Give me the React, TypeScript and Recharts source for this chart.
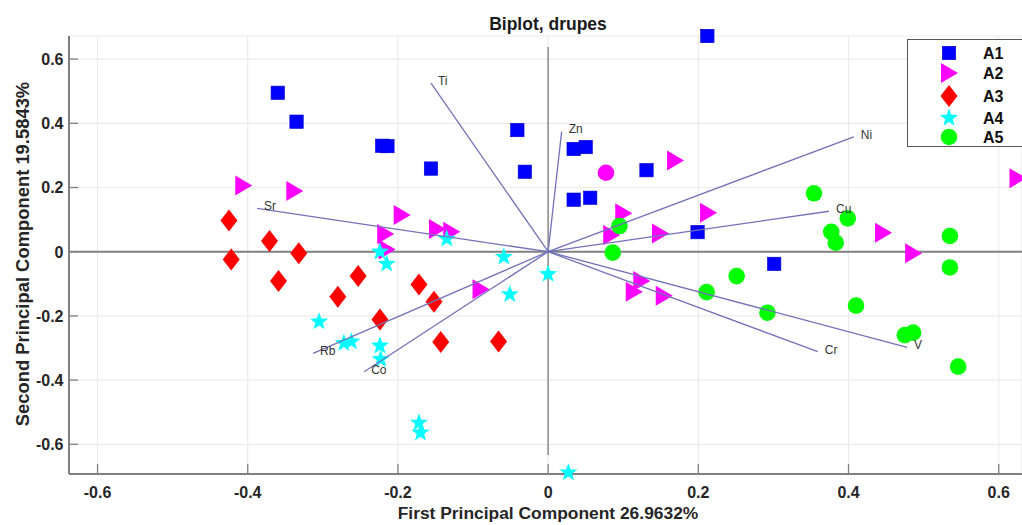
import React from 'react';
import { ScatterChart, Scatter, XAxis, YAxis, CartesianGrid, ReferenceLine, Legend } from 'recharts';

const FONT = '"Liberation Sans", Arial, Helvetica, sans-serif';

// ---- data ----
const xTicks = [-0.6, -0.4, -0.2, 0, 0.2, 0.4, 0.6];
const yTicks = [-0.6, -0.4, -0.2, 0, 0.2, 0.4, 0.6];

const a1Points = [
  [0.212, 0.672], [-0.36, 0.495], [-0.335, 0.405], [-0.221, 0.33], [-0.214, 0.329],
  [-0.156, 0.259], [-0.041, 0.379], [-0.031, 0.249], [0.034, 0.32], [0.05, 0.326],
  [0.034, 0.162], [0.056, 0.168], [0.131, 0.254], [0.199, 0.061], [0.301, -0.038],
];
const a2Points = [
  [-0.406, 0.206], [-0.338, 0.189], [-0.195, 0.114], [-0.217, 0.055], [-0.215, 0.007],
  [-0.148, 0.071], [-0.129, 0.062], [-0.09, -0.117], [0.169, 0.284], [0.1, 0.12],
  [0.084, 0.052], [0.149, 0.057], [0.213, 0.121], [0.124, -0.091], [0.114, -0.125],
  [0.154, -0.137], [0.446, 0.059], [0.486, -0.005], [0.625, 0.229],
];
const a2CirclePoints = [[0.077, 0.246]];
const a3Points = [
  [-0.425, 0.097], [-0.422, -0.024], [-0.371, 0.033], [-0.332, -0.005], [-0.359, -0.091],
  [-0.253, -0.076], [-0.28, -0.14], [-0.224, -0.211], [-0.172, -0.102], [-0.152, -0.156],
  [-0.143, -0.281], [-0.066, -0.28],
];
const a4Points = [
  [-0.305, -0.218], [-0.272, -0.285], [-0.262, -0.28], [-0.224, -0.293], [-0.223, -0.335],
  [-0.215, -0.038], [-0.224, 0.0], [-0.172, -0.533], [-0.17, -0.564], [-0.135, 0.04],
  [-0.059, -0.016], [-0.051, -0.133], [0.0, -0.07], [0.027, -0.688],
];
const a5Points = [
  [0.095, 0.08], [0.086, -0.003], [0.211, -0.126], [0.354, 0.182], [0.399, 0.104],
  [0.377, 0.062], [0.383, 0.028], [0.535, 0.049], [0.535, -0.049], [0.251, -0.076],
  [0.292, -0.19], [0.41, -0.168], [0.475, -0.26], [0.486, -0.252], [0.546, -0.358],
];

const loadingLabels = ['Ti', 'Zn', 'Ni', 'Cu', 'Sr', 'Rb', 'Co', 'Cr', 'V'];
const loadingX = [-0.156, 0.018, 0.407, 0.374, -0.3875, -0.313, -0.245, 0.359, 0.478];
const loadingY = [0.525, 0.374, 0.358, 0.126, 0.135, -0.3165, -0.374, -0.3115, -0.298];

const seriesNames = ['A1', 'A2', 'A3', 'A4', 'A5'];
const seriesColors = ['#0000ff', '#ff00ff', '#ff0000', '#00ffff', '#00ff00'];
const seriesKinds = ['square', 'triangle', 'diamond', 'star', 'circle'];
const seriesPoints = [a1Points, a2Points, a3Points, a4Points, a5Points];

const toObjs = (pts: number[][]) => pts.map(([x, y]) => ({ x, y }));

// ---- markers ----
function Marker({ kind, cx, cy, color }: { kind: string; cx: number; cy: number; color: string }) {
  if (cx == null || cy == null || isNaN(cx) || isNaN(cy)) return <g />;
  if (kind === 'square') {
    return <rect x={cx - 6.7} y={cy - 6.7} width={13.4} height={13.4} fill={color} stroke="#0000cc" strokeWidth={0.6} />;
  }
  if (kind === 'triangle') {
    return <polygon points={`${cx - 8},${cy - 10} ${cx + 9},${cy} ${cx - 8},${cy + 10}`} fill={color} />;
  }
  if (kind === 'diamond') {
    return <polygon points={`${cx},${cy - 11} ${cx + 8.5},${cy} ${cx},${cy + 11} ${cx - 8.5},${cy}`} fill={color} />;
  }
  if (kind === 'star') {
    const pts: string[] = [];
    for (let i = 0; i < 10; i++) {
      const r = i % 2 === 0 ? 9.5 : 3.9;
      const a = -Math.PI / 2 + (i * Math.PI) / 5;
      pts.push(`${cx + r * Math.cos(a)},${cy + r * Math.sin(a)}`);
    }
    return <polygon points={pts.join(' ')} fill={color} />;
  }
  return <circle cx={cx} cy={cy} r={8.3} fill={color} />;
}

// ---- ticks ----
const XTick = (props: any) => {
  const { x, y, payload } = props;
  return (
    <g>
      <line x1={x} y1={y} x2={x} y2={y - 10} stroke="#808080" strokeWidth={1.3} />
      <text x={x} y={y + 24} textAnchor="middle" fontFamily={FONT} fontSize={16} fontWeight="bold" fill="#262626">
        {String(payload.value)}
      </text>
    </g>
  );
};
const YTick = (props: any) => {
  const { x, y, payload } = props;
  return (
    <g>
      <line x1={x} y1={y} x2={x + 9} y2={y} stroke="#808080" strokeWidth={1.3} />
      <text x={x - 5.5} y={y + 5.8} textAnchor="end" fontFamily={FONT} fontSize={16} fontWeight="bold" fill="#262626">
        {String(payload.value)}
      </text>
    </g>
  );
};

// ---- legend ----
const LegendBox = () => (
  <div
    style={{
      width: 120,
      height: 108,
      border: '1.3px solid #555',
      background: '#fff',
      boxSizing: 'border-box',
      position: 'relative',
    }}
  >
    <svg width={120} height={108} style={{ position: 'absolute', left: 0, top: 0 }}>
      {seriesNames.map((n, i) => {
        const cy = [13, 33, 56, 78, 97][i];
        return (
          <g key={n}>
            <Marker kind={seriesKinds[i]} cx={41} cy={cy} color={seriesColors[i]} />
            <text x={75} y={cy + 6} fontFamily={FONT} fontSize={16} fontWeight="bold" fill="#111">
              {n}
            </text>
          </g>
        );
      })}
    </svg>
  </div>
);

export default function App() {
  return (
    <div style={{ position: 'absolute', left: 0, top: 0, width: 1022, height: 525, overflow: 'hidden', background: '#fff' }}>
      <ScatterChart width={1022} height={525} margin={{ top: 36, right: 0, bottom: 0, left: 0 }}>
        <CartesianGrid stroke="#ebebeb" strokeWidth={1.2} />
        <XAxis
          type="number"
          dataKey="x"
          domain={[-0.638, 0.631]}
          ticks={xTicks}
          interval={0}
          height={51}
          tickLine={false}
          tickSize={0}
          tickMargin={0}
          tick={XTick}
          axisLine={{ stroke: '#808080', strokeWidth: 2 }}
        />
        <YAxis
          type="number"
          dataKey="y"
          domain={[-0.6925, 0.672]}
          ticks={yTicks}
          interval={0}
          width={69}
          tickLine={false}
          tickSize={0}
          tickMargin={0}
          tick={YTick}
          axisLine={{ stroke: '#808080', strokeWidth: 2 }}
        />
        <ReferenceLine y={0} stroke="#808080" strokeWidth={2} />
        <ReferenceLine
          segment={[{ x: 0, y: -0.633 }, { x: 0, y: 0.638 }]}
          stroke="#8c8c8c"
          strokeWidth={1.5}
        />
        {seriesNames.map((n, i) => (
          <Scatter
            key={n}
            name={n}
            data={toObjs(seriesPoints[i])}
            isAnimationActive={false}
            shape={(p: any) => <Marker kind={seriesKinds[i]} cx={p.cx} cy={p.cy} color={seriesColors[i]} />}
          />
        ))}
        <Scatter
          name="A2 circle"
          legendType="none"
          data={toObjs(a2CirclePoints)}
          isAnimationActive={false}
          shape={(p: any) => <Marker kind="circle" cx={p.cx} cy={p.cy} color="#ff00ff" />}
        />
        {loadingLabels.map((lab, i) => (
          <Scatter
            key={lab}
            name={lab}
            legendType="none"
            data={[{ x: 0, y: 0, label: '' }, { x: loadingX[i], y: loadingY[i], label: lab }]}
            line={{ stroke: '#7272b8', strokeWidth: 1.3 }}
            isAnimationActive={false}
            shape={(p: any) =>
              p.payload && p.payload.label ? (
                <text x={p.cx + 7} y={p.cy + 1.8} fontFamily={FONT} fontSize={12} fill="#333">
                  {p.payload.label}
                </text>
              ) : (
                <g />
              )
            }
          />
        ))}
        <Legend
          layout="vertical"
          align="center"
          verticalAlign="middle"
          content={() => <LegendBox />}
          wrapperStyle={{ position: 'absolute', left: 907, top: 39, width: 120, height: 108 }}
        />
        <text x={548} y={30} textAnchor="middle" fontFamily={FONT} fontSize={17.5} fontWeight="bold" fill="#1a1a1a">
          Biplot, drupes
        </text>
        <text x={548} y={519} textAnchor="middle" fontFamily={FONT} fontSize={17.4} fontWeight="bold" fill="#262626">
          First Principal Component 26.9632%
        </text>
        <text
          x={0}
          y={0}
          transform="translate(28.5,254) rotate(-90)"
          textAnchor="middle"
          fontFamily={FONT}
          fontSize={18.4}
          fontWeight="bold"
          fill="#262626"
        >
          Second Principal Component 19.5843%
        </text>
      </ScatterChart>
    </div>
  );
}
